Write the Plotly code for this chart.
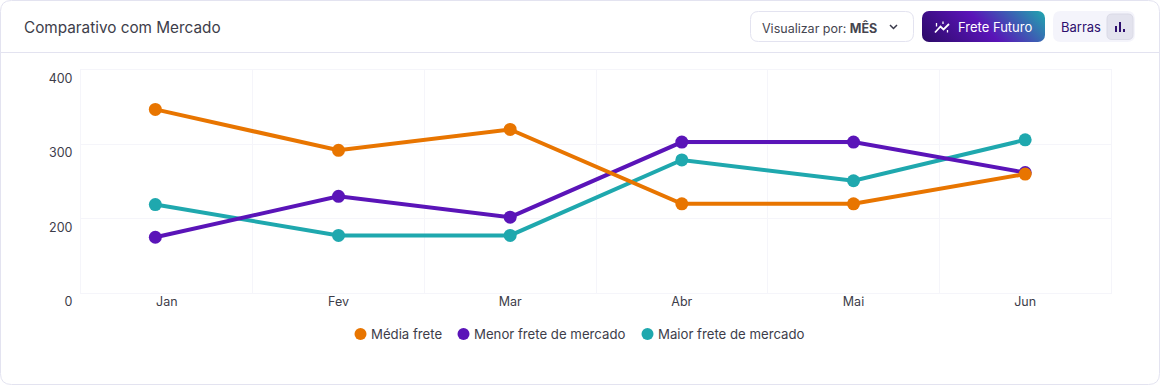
import base64
import numpy as np
import plotly.graph_objects as go

TITLE = "Comparativo com Mercado"
months = ["Jan", "Fev", "Mar", "Abr", "Mai", "Jun"]
month_positions = [-0.067, 1, 2, 3, 4, 5]
y_ticks = [0, 200, 300, 400]
media_frete = [347, 292, 320, 220, 220, 260]
menor_frete = [150, 230, 202, 303, 303, 262]
maior_frete = [219, 155, 155, 279, 251, 306]
names = ["Média frete", "Menor frete de mercado", "Maior frete de mercado"]
colors = ["#E87500", "#5A14B8", "#1FA8AE"]

W, H = 1160, 385
L, R, T, B = 81, 1111, 70, 293
FONT = "Inter"
TEXT = "#3D3D4A"
BORDER = "#E3E3F0"
GRID = "#F5F5FA"


def X(x):
    return (x - L) / (R - L)


def Y(y):
    return (B - y) / (B - T)


def rrect(x0, y0, x1, y1, r):
    pts = [
        ("M", x0 + r, y0), ("L", x1 - r, y0), ("Q", x1, y0, x1, y0 + r),
        ("L", x1, y1 - r), ("Q", x1, y1, x1 - r, y1), ("L", x0 + r, y1),
        ("Q", x0, y1, x0, y1 - r), ("L", x0, y0 + r), ("Q", x0, y0, x0 + r, y0),
    ]
    out = []
    for p in pts:
        c = p[1:]
        out.append(p[0] + " " + " ".join(f"{X(c[i]):.5f} {Y(c[i + 1]):.5f}" for i in range(0, len(c), 2)))
    return " ".join(out) + " Z"


def poly(points):
    return "M " + " L ".join(f"{X(a):.5f} {Y(b):.5f}" for a, b in points)


def shape(path, fill="rgba(0,0,0,0)", line=None, width=1, layer="below"):
    return dict(type="path", xref="paper", yref="paper", path=path, fillcolor=fill,
                line=dict(color=line or "rgba(0,0,0,0)", width=width if line else 0), layer=layer)


def label(x, y, text, size=13, color=TEXT, anchor="left"):
    return dict(xref="paper", yref="paper", x=X(x), y=Y(y), text=text, showarrow=False,
                xanchor=anchor, yanchor="middle", borderpad=0, borderwidth=0,
                font=dict(family=FONT, size=size, color=color))


fig = go.Figure()
y_axis_pos = list(range(len(y_ticks)))
series = list(zip(names, colors, [media_frete, menor_frete, maior_frete]))
for name, color, values in reversed(series):
    fig.add_trace(go.Scatter(
        x=month_positions, y=np.interp(values, y_ticks, y_axis_pos), name=name, mode="lines+markers",
        line=dict(color=color, width=4), marker=dict(color=color, size=13),
        showlegend=False, hoverinfo="skip", cliponaxis=False))

svg = """<svg xmlns="http://www.w3.org/2000/svg" width="123" height="31" viewBox="0 0 123 31"><defs>
<linearGradient id="g" gradientUnits="userSpaceOnUse" x1="23" y1="54" x2="100" y2="-23">
<stop offset="0" stop-color="#2B0A66"/><stop offset="0.5" stop-color="#5A14B8"/>
<stop offset="1" stop-color="#1FA8AE"/></linearGradient></defs>
<rect width="123" height="31" rx="7" fill="url(#g)"/></svg>"""
button = "data:image/svg+xml;base64," + base64.b64encode(svg.encode()).decode()

shapes = [
    shape(rrect(0.5, 0.5, 1159.5, 384.5, 11), line=BORDER),
    shape(poly([(0.5, 52.5), (1159.5, 52.5)]), line=BORDER),
    shape(rrect(750.5, 11.5, 913.5, 41.5, 8), "#FFFFFF", BORDER),
    shape(rrect(1053, 11, 1135, 42, 8), "#F4F4FB"),
    shape(rrect(1107, 14, 1133, 39.5, 5), "#E3E3EE", "#DADAE6"),
    shape(poly([(890, 25), (893.5, 28.5), (897, 25)]), line="#3A3A4A", width=1.5),
    shape(poly([(935, 32.5), (940.5, 26.5), (943.5, 29.5), (949, 24)]), line="#FFFFFF", width=1.8, layer="above"),
    shape(poly([(936.5, 23), (936.5, 26.5)]), line="#FFFFFF", width=1.3, layer="above"),
    shape(poly([(943, 21.5), (943, 24)]), line="#FFFFFF", width=1.3, layer="above"),
    shape(poly([(947.5, 30), (947.5, 32.5)]), line="#FFFFFF", width=1.3, layer="above"),
    shape(poly([(1116, 32), (1116, 26)]), line="#2E0F6E", width=2),
    shape(poly([(1120, 32), (1120, 22)]), line="#2E0F6E", width=2),
    shape(poly([(1124, 32), (1124, 29)]), line="#2E0F6E", width=2),
]
annotations = [
    label(24, 27, TITLE, 15.3),
    label(762, 27.5, "Visualizar por: <b>MÊS</b>", 12.5, "#45454F"),
    label(958, 27, "Frete Futuro", 13, "#FFFFFF"),
    label(1061, 27, "Barras", 13, "#2E0F6E"),
]
for (name, color, _), cx, tx in zip(series, [360.5, 463.5, 647.5], [371, 473.5, 658]):
    shapes.append(dict(type="circle", xref="paper", yref="paper", x0=X(cx - 6), x1=X(cx + 6),
                       y0=Y(334 + 6), y1=Y(334 - 6), fillcolor=color, line=dict(width=0), layer="above"))
    annotations.append(label(tx, 334, name, 13.2))

fig.update_layout(
    width=W, height=H, autosize=False, margin=dict(l=L, r=W - R, t=T, b=H - B, pad=0),
    paper_bgcolor="#FFFFFF", plot_bgcolor="rgba(0,0,0,0)", showlegend=False, hovermode=False,
    font=dict(family=FONT, size=12.5, color=TEXT), shapes=shapes, annotations=annotations,
    images=[dict(source=button, xref="paper", yref="paper", x=X(922), y=Y(11), sizex=123 / (R - L),
                 sizey=31 / (B - T), xanchor="left", yanchor="top", sizing="stretch", layer="below")],
    xaxis=dict(range=[-0.5, 5.5], tickmode="array", tickvals=list(range(6)), ticktext=months,
               showgrid=False, zeroline=False, showline=True, mirror=True, linecolor=GRID, linewidth=1,
               ticks="", ticklabelstandoff=-3,
               minor=dict(tickmode="array", tickvals=[i - 0.5 for i in range(7)], showgrid=True,
                          gridcolor=GRID, gridwidth=1, ticks="")),
    yaxis=dict(range=[0, 3], tickmode="array", tickvals=y_axis_pos, ticktext=[str(t) for t in y_ticks],
               gridcolor=GRID, gridwidth=1, zeroline=False, showline=True, mirror=True, linecolor=GRID,
               linewidth=1, ticks="", ticklabelposition="outside bottom", ticklabelstandoff=5),
)
fig.write_html("out.html", config=dict(displayModeBar=False), post_script="document.body.style.margin='0';")
